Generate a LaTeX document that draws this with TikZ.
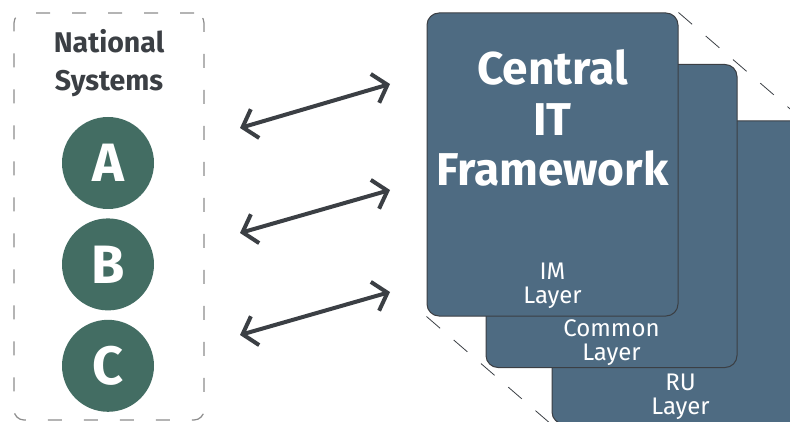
\documentclass[tikz,border=0pt]{standalone}
\usepackage{fontspec}
\setmainfont{Fira Sans}
\usetikzlibrary{positioning,calc,arrows.meta,backgrounds}

\definecolor{cardblue}{HTML}{4E6B82}
\definecolor{natgreen}{HTML}{436D63}
\definecolor{inkgray}{HTML}{3B3F44}
\definecolor{boxgray}{HTML}{8C8C8C}

\tikzset{
	natbox/.style={draw=boxgray, line width=1.2pt, dash pattern=on 14pt off 22pt, rounded corners=10pt, minimum width=190pt, minimum height=407pt, inner sep=0pt},
	nattitle/.style={text=inkgray, align=center, inner sep=0pt, font=\fontsize{28.5}{38}\selectfont\bfseries},
	natcircle/.style={circle, fill=natgreen, minimum size=92pt, inner sep=0pt, text=white, font=\fontsize{54}{54}\selectfont\bfseries},
	card/.style={draw=inkgray, line width=1pt, fill=cardblue, rounded corners=12pt, minimum width=251pt, minimum height=303pt, inner sep=0pt},
	cardtitle/.style={text=white, align=center, inner sep=0pt, font=\fontsize{46}{50.5}\selectfont\bfseries},
	layertext/.style={text=white, align=center, inner sep=0pt, font=\fontsize{24}{24}\selectfont},
	link/.style={inkgray, line width=4pt, {Straight Barb[length=13pt,width=30pt]}-{Straight Barb[length=13pt,width=30pt]}},
	guide/.style={inkgray, line width=0.8pt, dash pattern=on 18pt off 18pt},
}

\begin{document}
\begin{tikzpicture}[x=1pt, y=-1pt]

	\useasboundingbox (0,0) rectangle (790,422);
	\clip (0,0) rectangle (790,422);

	% national side
	\node[natbox] (natbox) at (109,216.5) {};
	\node[nattitle, below=17pt of natbox.north] (nattitle) {National\\Systems};
	\node[natcircle] (A) at (108,163) {A};
	\node[natcircle, below=9pt of A] (B) {B};
	\node[natcircle, below=9pt of B] (C) {C};

	% layered framework
	\node[card] (ru) at (677.5,272.5) {};
	\node[card] (common) at (611.5,216) {};
	\node[card] (im) at (552.5,164.5) {};

	\node[cardtitle, below=37pt of im.north] (imtitle) {Central\\IT\\Framework};
	\node[layertext, above=8pt of im.south] (imlabel) {IM\\Layer};
	\node[layertext, above=2pt of common.south] (commonlabel) {Common\\Layer};
	\node[layertext, above=5pt of ru.south, xshift=3pt] (rulabel) {RU\\Layer};

	\begin{scope}[on background layer]
		\draw[guide] (im.north east) -- ($(im.north east)!1.8!(ru.north east)$);
		\draw[guide] (im.south west) -- ($(im.south west)!1.8!(ru.south west)$);
		\draw[guide] (im.south east) -- ($(im.south east)!1.8!(ru.south east)$);
	\end{scope}

	% exchange arrows
	\coordinate (linkAl) at (240,128);
	\coordinate (linkAr) at (390,84);
	\coordinate (linkBl) at (240,233);
	\coordinate (linkBr) at (390,190);
	\coordinate (linkCl) at (240,335);
	\coordinate (linkCr) at (390,292);

	\draw[link] (linkAl) -- (linkAr);
	\draw[link] (linkBl) -- (linkBr);
	\draw[link] (linkCl) -- (linkCr);

\end{tikzpicture}
\end{document}
